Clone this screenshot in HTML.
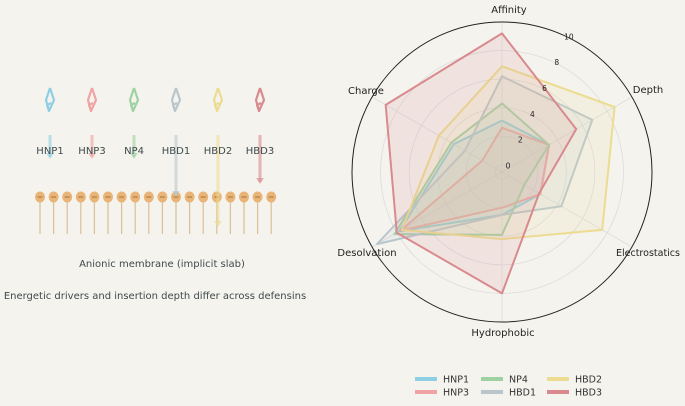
<!DOCTYPE html>
<html><head><meta charset="utf-8"><style>
html,body{margin:0;padding:0;background:#f5f3ee;}
svg{display:block;font-family:"DejaVu Sans","Liberation Sans",sans-serif;}
</style></head><body>
<svg id="root" width="685" height="406" viewBox="0 0 685 406">
<rect width="685" height="406" fill="#f5f3ee"/>
<g id="left"></g>
<text x="162" y="267" text-anchor="middle" font-size="10" fill="#3d4b4b">Anionic membrane (implicit slab)</text>
<text x="155" y="299" text-anchor="middle" font-size="10" fill="#3d4b4b">Energetic drivers and insertion depth differ across defensins</text>
<g id="radar"></g>
<g id="legend"></g>
</svg>
<script>
const peptides = ["HNP1","HNP3","NP4","HBD1","HBD2","HBD3"];
const colors = ["#8ecfe4","#f0a3a3","#9fd2a3","#b9c7cd","#ecdc92","#d98a8e"];
const insertionDepth = [22,22,22,60,90,47];
const axesLabels = ["Affinity","Depth","Electrostatics","Hydrophobic","Desolvation","Charge"];
const tickValues = [0,2,4,6,8,10];
const sHNP1 = [3.1,3.3,2.6,2.5,7.8,3.4];
const sHNP3 = [2.6,3.3,2.6,2.0,7.7,1.1];
const sNP4  = [4.3,3.3,1.3,3.9,8.2,3.6];
const sHBD1 = [6.2,6.8,4.3,2.5,9.6,2.5];
const sHBD2 = [6.9,8.6,7.6,4.2,7.6,4.6];
const sHBD3 = [9.2,5.5,2.5,8.0,8.0,8.9];
const series = [sHNP1,sHNP3,sNP4,sHBD1,sHBD2,sHBD3];

const NS="http://www.w3.org/2000/svg";
function mk(tag,attrs,parent){const e=document.createElementNS(NS,tag);for(const k in attrs)e.setAttribute(k,attrs[k]);parent.appendChild(e);return e;}

const L=document.getElementById('left');
const headY=197;
for(let i=0;i<18;i++){
  const x=40+i*13.6;
  const t=mk('line',{x1:x,y1:headY,x2:x,y2:234,stroke:"#dcc29c","stroke-width":1.3},L);
  
  
  const h=mk('ellipse',{cx:x,cy:headY,rx:5,ry:5.5,fill:"#e9b476"},L);
  
  
  const m=mk('line',{x1:x-2.5,y1:headY,x2:x+2.5,y2:headY,stroke:"#9a7446","stroke-width":1},L);
  
  
}
peptides.forEach((p,i)=>{
  const x=50+i*42;
  const y2=135+insertionDepth[i];
  const a=mk('line',{x1:x,y1:135,x2:x,y2:y2,stroke:colors[i],"stroke-width":3,opacity:0.6},L);
  
  
  const ah=mk('path',{d:`M${x-4},${y2-4} L${x+4},${y2-4} L${x},${y2+2} Z`,fill:colors[i],opacity:0.6},L);
  
  
  const hx=mk('path',{d:`M${x},88 L${x-4},100 L${x-1},111 L${x+4},100 L${x},88 M${x-1},111 L${x-3},105 L${x+1},103`,fill:"none",stroke:colors[i],"stroke-width":2.2,"stroke-linejoin":"round"},L);
  
  
  const tx=mk('text',{x:x,y:154,"text-anchor":"middle","font-size":10,fill:"#3d4b4b"},L);
  tx.textContent=p;
  
  
});

const R=document.getElementById('radar');
const cx=502, cy=172, Rmax=150;
function rr(v){return Rmax*(v+0.5)/10.5;}
function ang(i){return Math.PI/2 - i*Math.PI/3;}
function pt(i,v){const a=ang(i),r=rr(v);return [cx+r*Math.cos(a), cy-r*Math.sin(a)];}
tickValues.forEach(t=>{
  if(t===10)return;
  const c=mk('circle',{cx:cx,cy:cy,r:rr(t),fill:"none",stroke:"#dcdcdc","stroke-width":0.8},R);
  
  
});
axesLabels.forEach((l,i)=>{
  const [x,y]=pt(i,10);
  const s=mk('line',{x1:cx,y1:cy,x2:x,y2:y,stroke:"#dcdcdc","stroke-width":0.8},R);
  
  
});
series.forEach((s,k)=>{
  const d=s.map((v,i)=>pt(i,v).map(n=>n.toFixed(1)).join(',')).join(' ');
  const pg=mk('polygon',{points:d,fill:colors[k],"fill-opacity":0.15,stroke:colors[k],"stroke-width":2,"stroke-linejoin":"round"},R);
  
  
});
const oc=mk('circle',{cx:cx,cy:cy,r:Rmax,fill:"none",stroke:"#222","stroke-width":1},R);


tickValues.forEach(t=>{
  const a=Math.PI/2-0.44, r=rr(t);
  const tx=mk('text',{x:cx+r*Math.cos(a)+3,y:cy-r*Math.sin(a)+3,"text-anchor":"middle","font-size":7.5,fill:"#222"},R);
  tx.textContent=t;
  
  
});
const labPos=[[509,13],[648,93],[648,256],[503,336],[367,256],[366,94]];
axesLabels.forEach((l,i)=>{
  const tx=mk('text',{x:labPos[i][0],y:labPos[i][1],"text-anchor":"middle","font-size":i===2?9.5:10,fill:"#222"},R);
  tx.textContent=l;
  
  
});

const G=document.getElementById('legend');
peptides.forEach((p,k)=>{
  const col=Math.floor(k/2), row=k%2;
  const lx=[415,481,547][col], ly=[379,392][row];
  const ln=mk('line',{x1:lx,y1:ly,x2:lx+22,y2:ly,stroke:colors[k],"stroke-width":4},G);
  
  
  const tx=mk('text',{x:lx+28,y:ly+3.5,"font-size":9.5,fill:"#333"},G);
  tx.textContent=p;
  
  
});
</script>
</body></html>
